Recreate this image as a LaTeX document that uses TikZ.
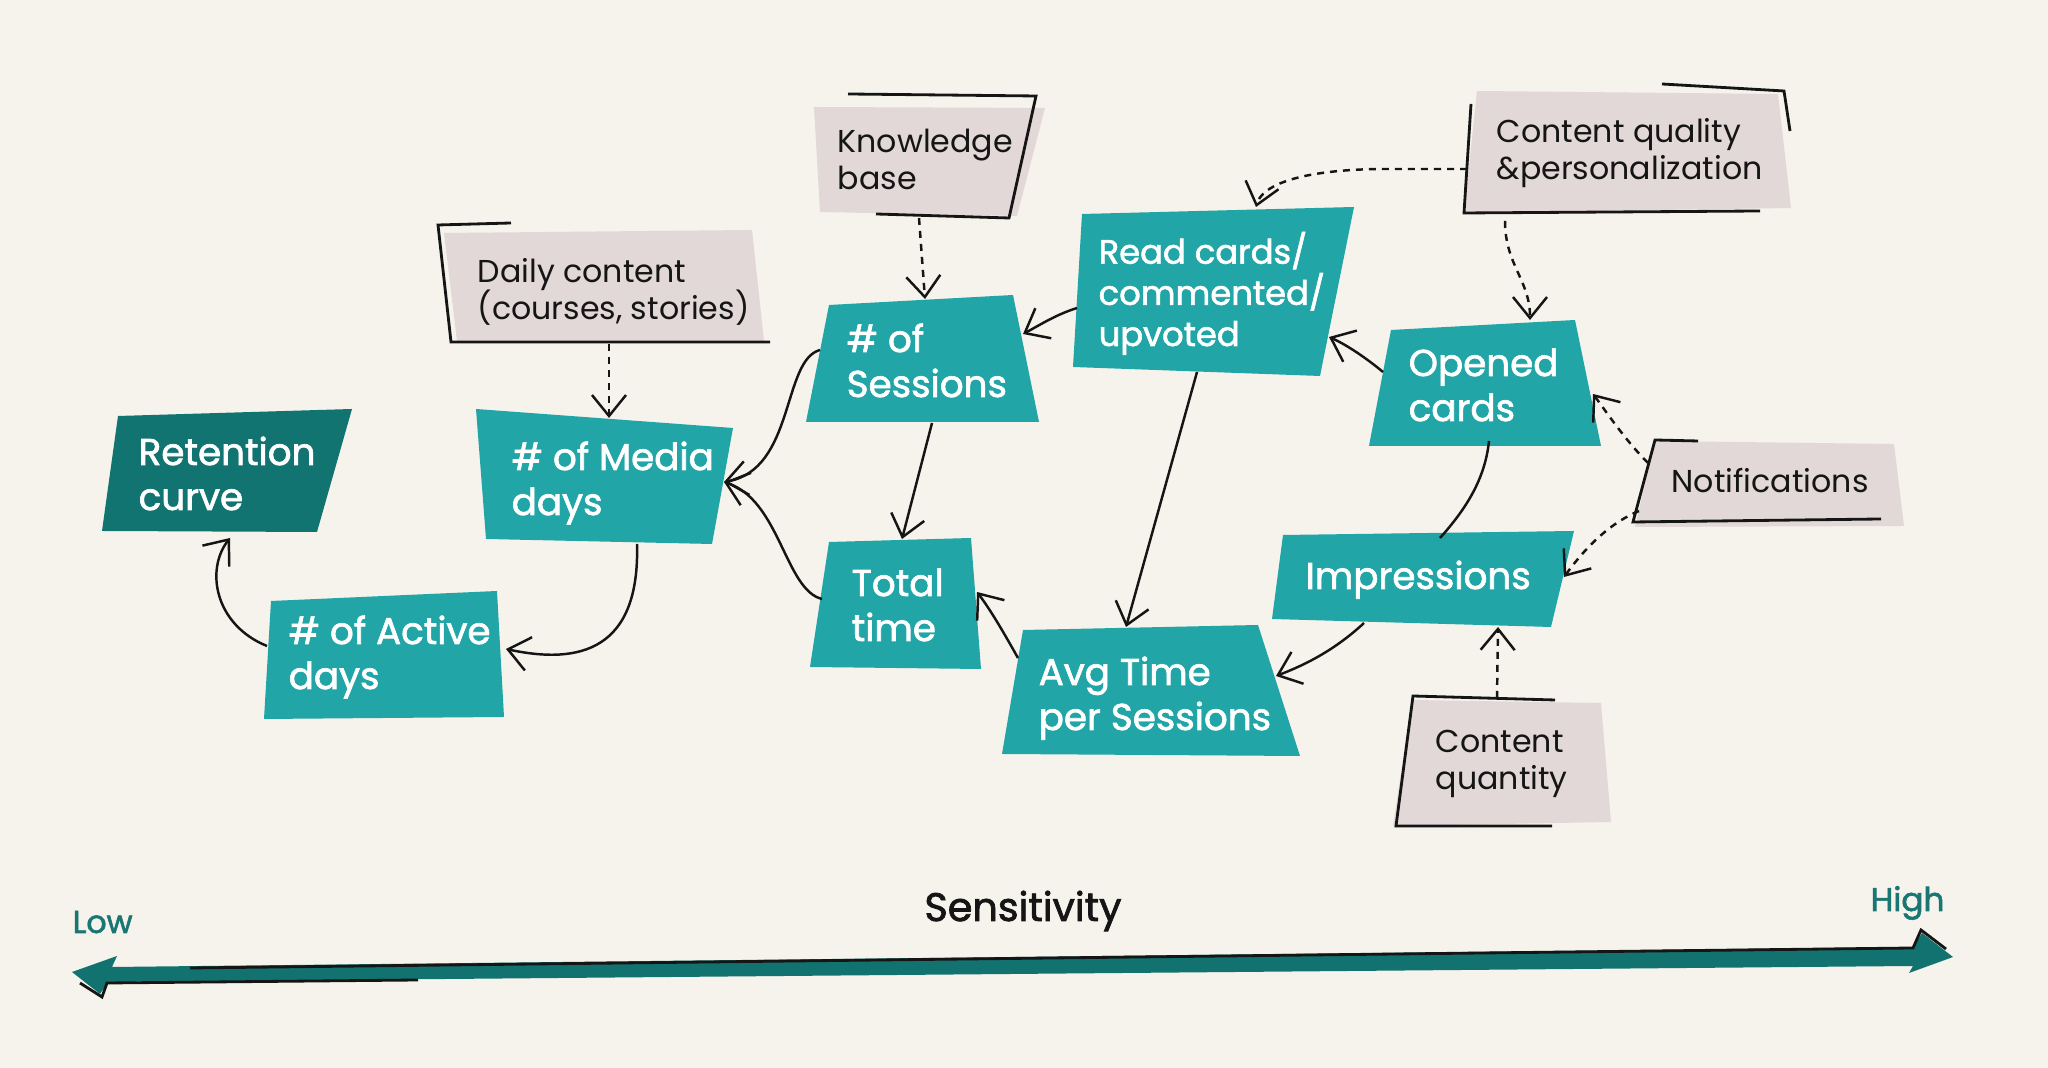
\documentclass[tikz,border=0pt]{standalone}
\usepackage{fontspec}
\setmainfont{Poppins}
\newfontfamily\medfont{Poppins}[FakeBold=1.8]
\usetikzlibrary{arrows.meta}
\definecolor{bg}{HTML}{F5F3EB}
\definecolor{tealbox}{HTML}{21A5A6}
\definecolor{darkteal}{HTML}{117471}
\definecolor{pinkbox}{HTML}{E3D8D8}
\definecolor{axisteal}{HTML}{12726F}
\definecolor{ink}{HTML}{151515}
\definecolor{lowhigh}{HTML}{1A7672}
\begin{document}
\begin{tikzpicture}[x=0.01cm,y=-0.01cm,
  whitetxt/.style={anchor=base west, inner sep=0pt, align=left, text=white, font=\medfont\fontsize{10.6}{12.8}\selectfont},
  smallwhite/.style={whitetxt, font=\medfont\fontsize{9.6}{11.7}\selectfont},
  pinktxt/.style={anchor=base west, inner sep=0pt, align=left, text=ink, font=\fontsize{9.0}{10.8}\selectfont},
  sketch/.style={draw=ink, line width=0.8pt, line join=miter},
  conn/.style={draw=ink, line width=0.7pt, -{Straight Barb[length=2.1mm,width=3.4mm]}},
  plainconn/.style={draw=ink, line width=0.7pt},
  dconn/.style={conn, dash pattern=on 0.7mm off 0.6mm}
]
\fill[bg] (0,0) rectangle (2048,1068);
\useasboundingbox (0,0) rectangle (2048,1068);

% ---------- boxes (text nodes anchored at the baseline of their last line) ----------
% Retention curve
\fill[darkteal] (118,416) -- (352,409) -- (317,532) -- (102,531) -- cycle;
\node[whitetxt] (ret) at (138,510) {Retention\\curve};
% # of Media days
\fill[tealbox] (476,409) -- (733,428) -- (712,544) -- (486,539) -- cycle;
\node[whitetxt] (media) at (511,515) {\# of Media\\days};
% Daily content
\fill[pinkbox] (444,233) -- (752,230) -- (764,341) -- (457,341) -- cycle;
\draw[sketch] (511,223) -- (438,225) -- (451,342) -- (770,342);
\node[pinktxt] (daily) at (477,320) {Daily content\\(courses, stories)};
% # of Active days
\fill[tealbox] (271,601) -- (497,591) -- (504,717) -- (264,719) -- cycle;
\node[whitetxt] (act) at (288,689) {\# of Active\\days};
% Knowledge base
\fill[pinkbox] (814,107) -- (1045,108) -- (1017,216) -- (820,212) -- cycle;
\draw[sketch] (848,94) -- (1036,96) -- (1009,218) -- (876,214);
\node[pinktxt] (kb) at (837,190) {Knowledge\\base};
% # of Sessions
\fill[tealbox] (829,305) -- (1013,295) -- (1039,422) -- (806,422) -- cycle;
\node[whitetxt] (ses) at (846,397) {\# of\\Sessions};
% Read cards
\fill[tealbox] (1082,214) -- (1354,207) -- (1320,376) -- (1073,367) -- cycle;
\node[smallwhite] (read) at (1098,346) {Read cards/\\commented/\\upvoted};
% Total time
\fill[tealbox] (829,542) -- (971,538) -- (981,669) -- (810,667) -- cycle;
\node[whitetxt] (tot) at (851,641) {Total\\time};
% Avg Time per Sessions
\fill[tealbox] (1023,630) -- (1258,625) -- (1300,756) -- (1002,754) -- cycle;
\node[whitetxt] (avg) at (1038,730) {Avg Time\\per Sessions};
% Content quality
\fill[pinkbox] (1477,91) -- (1778,94) -- (1791,208) -- (1464,213) -- cycle;
\draw[sketch] (1662,84) -- (1784,91) -- (1790,131);
\draw[sketch] (1471,104) -- (1464,213) -- (1760,211);
\node[pinktxt] (cq) at (1496,180) {Content quality\\\&personalization};
% Opened cards
\fill[tealbox] (1391,330) -- (1575,320) -- (1601,446) -- (1369,446) -- cycle;
\node[whitetxt] (open) at (1408,421) {Opened\\cards};
% Notifications
\fill[pinkbox] (1655,441) -- (1894,444) -- (1904,526) -- (1635,527) -- cycle;
\draw[sketch] (1698,441) -- (1655,440) -- (1633,522) -- (1881,519);
\node[pinktxt] (notif) at (1671,493) {Notifications};
% Impressions
\fill[tealbox] (1283,535) -- (1574,531) -- (1551,627) -- (1272,619) -- cycle;
\node[whitetxt] (imp) at (1305,589) {Impressions};
% Content quantity
\fill[pinkbox] (1412,700) -- (1601,703) -- (1611,822) -- (1393,826) -- cycle;
\draw[sketch] (1555,700) -- (1413,696) -- (1396,826) -- (1552,826);
\node[pinktxt] (cqty) at (1435,790) {Content\\quantity};

% ---------- connector end points ----------
\coordinate (act-w) at (267,646);
\coordinate (ret-s) at (230,538);
\coordinate (media-s) at (637,544);
\coordinate (act-e) at (506,649);
\coordinate (media-e) at (724,482);
\coordinate (ses-w) at (820,350);
\coordinate (tot-w) at (822,599);
\coordinate (daily-s) at (609,344);
\coordinate (media-n) at (609,418);
\coordinate (kb-s) at (919,218);
\coordinate (ses-n) at (925,299);
\coordinate (read-w) at (1077,308);
\coordinate (ses-e) at (1023,334);
\coordinate (ses-s) at (932,423);
\coordinate (tot-n) at (902,539);
\coordinate (avg-w) at (1018,658);
\coordinate (tot-e) at (977,592);
\coordinate (read-s) at (1197,372);
\coordinate (avg-n) at (1126,627);
\coordinate (imp-s) at (1364,623);
\coordinate (avg-e) at (1276,676);
\coordinate (open-w) at (1383,372);
\coordinate (read-e) at (1329,337);
\coordinate (open-s) at (1489,441);
\coordinate (imp-n) at (1440,538);
\coordinate (cq-w) at (1467,169);
\coordinate (cq-bend) at (1380,169);
\coordinate (read-n) at (1256,207);
\coordinate (cq-s) at (1505,221);
\coordinate (open-n) at (1530,320);
\coordinate (notif-w1) at (1648,463);
\coordinate (open-e) at (1593,394);
\coordinate (notif-w2) at (1639,511);
\coordinate (imp-e) at (1564,577);
\coordinate (cqty-n) at (1497,698);
\coordinate (imp-s2) at (1498,627);

% ---------- connectors ----------
\draw[conn] (act-w) .. controls (215,625) and (205,570) .. (ret-s);
\draw[conn] (media-s) .. controls (640,650) and (580,665) .. (act-e);
\draw[conn] (ses-w) .. controls (782,360) and (795,470) .. (media-e);
\draw[conn] (tot-w) .. controls (785,590) and (780,500) .. (media-e);
\draw[dconn] (daily-s) -- (media-n);
\draw[dconn] (kb-s) -- (ses-n);
\draw[conn] (read-w) .. controls (1055,315) and (1040,325) .. (ses-e);
\draw[conn] (ses-s) -- (tot-n);
\draw[conn] (avg-w) .. controls (1005,635) and (992,612) .. (tot-e);
\draw[conn] (read-s) -- (avg-n);
\draw[conn] (imp-s) .. controls (1335,650) and (1305,665) .. (avg-e);
\draw[conn] (open-w) .. controls (1365,357) and (1345,344) .. (read-e);
\draw[plainconn] (open-s) .. controls (1485,480) and (1465,510) .. (imp-n);
\draw[dconn] (cq-w) -- (cq-bend) .. controls (1300,170) and (1262,185) .. (read-n);
\draw[dconn] (cq-s) .. controls (1505,265) and (1530,280) .. (open-n);
\draw[dconn] (notif-w1) .. controls (1625,440) and (1605,410) .. (open-e);
\draw[dconn] (notif-w2) .. controls (1605,525) and (1580,555) .. (imp-e);
\draw[dconn] (cqty-n) -- (imp-s2);

% ---------- sensitivity axis ----------
\fill[axisteal] (112,967) -- (1913,947) -- (1922,933) -- (1953,957) -- (1909,973) -- (1913,966)
   -- (108,982) -- (100,994) -- (72,972) -- (117,956) -- cycle;
\draw[sketch] (190,968) -- (1913,948) -- (1921,930) -- (1946,949);
\draw[sketch] (80,983) -- (102,997) -- (107,983) -- (418,980);
\node[anchor=base, inner sep=0pt, text=ink, font=\medfont\fontsize{11.3}{13}\selectfont] (sens) at (1023,921) {Sensitivity};
\node[anchor=base west, inner sep=0pt, text=lowhigh, font=\medfont\fontsize{9}{10}\selectfont] (low) at (72,933) {Low};
\node[anchor=base west, inner sep=0pt, text=lowhigh, font=\medfont\fontsize{9.3}{10}\selectfont] (high) at (1870,911) {High};
\end{tikzpicture}
\end{document}
